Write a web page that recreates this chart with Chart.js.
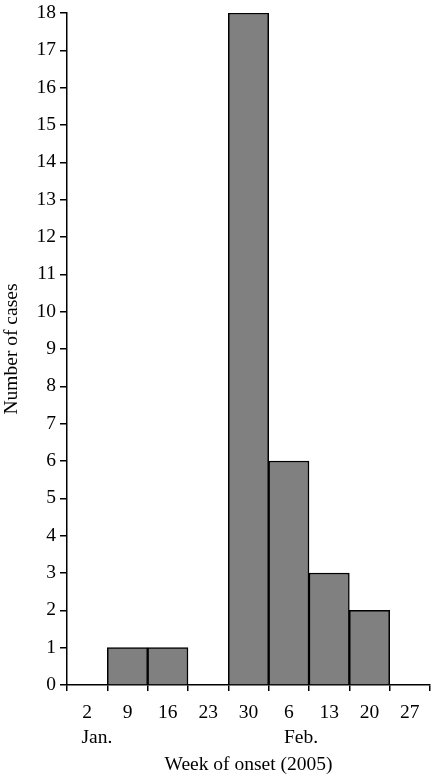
<!DOCTYPE html>
<html>
<head>
<meta charset="utf-8">
<script src="https://cdn.jsdelivr.net/npm/chart.js@4/dist/chart.umd.min.js"></script>
<style>
  body { margin: 0; background: #fff; }
  #wrap { width: 432px; height: 777px; }
</style>
</head>
<body>
<div id="wrap"><canvas id="myChart"></canvas></div>
<script>
// week start days, month shown under the first week of each month
var weeks = ['2', '9', '16', '23', '30', '6', '13', '20', '27'];
var months = ['    Jan.', '', '', '', '', '     Feb.', '', '', ''];
var cases = [0, 1, 1, 0, 18, 6, 3, 2, 0];

var labels = weeks.map(function (w, i) {
  return months[i] ? [w, months[i]] : [w, ''];
});

var serif = 'Liberation Serif';
var fsize = 19.5;

var ctx = document.getElementById('myChart').getContext('2d');
var myChart = new Chart(ctx, {
  type: 'bar',
  data: {
    labels: labels,
    datasets: [{
      data: cases,
      backgroundColor: '#808080',
      borderColor: '#000',
      borderWidth: 1.5,
      barPercentage: 1,
      categoryPercentage: 1
    }]
  },
  options: {
    responsive: true,
    maintainAspectRatio: false,
    animation: false,
    layout: { padding: { top: 0, right: 2, left: 0, bottom: 0 } },
    plugins: {
      legend: { display: false },
      tooltip: { enabled: false }
    },
    scales: {
      x: {
        grid: { drawOnChartArea: false, drawTicks: true, tickLength: 6, color: '#000', lineWidth: 1.5 },
        border: { display: true, color: '#000', width: 1.5 },
        ticks: {
          color: '#000',
          font: { family: serif, size: fsize, lineHeight: 1.3 },
          maxRotation: 0,
          autoSkip: false,
          padding: 9
        },
        title: {
          display: true,
          text: 'Week of onset (2005)',
          color: '#000',
          font: { family: serif, size: fsize },
          padding: { top: 0, bottom: 0 }
        },
        afterFit: function (s) { s.height = 92; }
      },
      y: {
        min: 0,
        max: 18,
        grid: { drawOnChartArea: false, drawTicks: true, tickLength: 7, color: '#000', lineWidth: 1.5 },
        border: { display: true, color: '#000', width: 1.5 },
        ticks: {
          stepSize: 1,
          color: '#000',
          font: { family: serif, size: fsize, lineHeight: 1.2 },
          padding: 4
        },
        title: {
          display: true,
          text: 'Number of cases',
          color: '#000',
          font: { family: serif, size: fsize },
          padding: { top: 0, bottom: 4 }
        },
        afterFit: function (s) { s.width = 67; s.paddingTop = 13; }
      }
    }
  }
});
</script>
</body>
</html>
